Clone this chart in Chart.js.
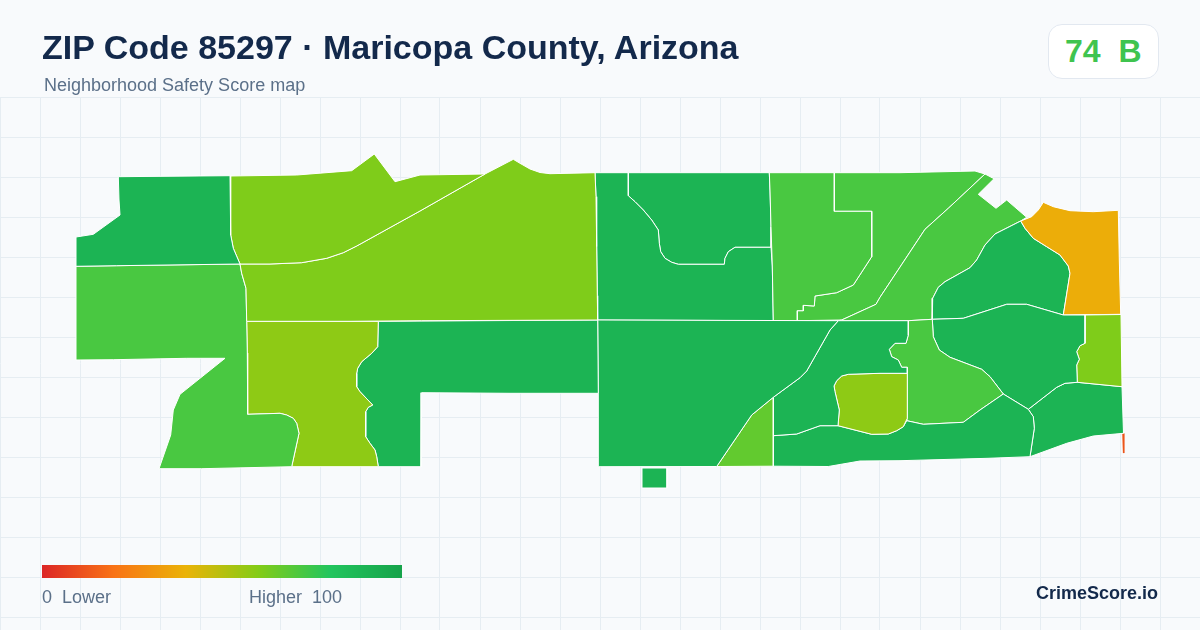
<!DOCTYPE html>
<html><head><meta charset="utf-8">
<script src="https://cdn.jsdelivr.net/npm/chart.js@4"></script>
<style>
html,body{margin:0;padding:0;width:1200px;height:630px;overflow:hidden;background:#f8fafc;font-family:"Liberation Sans",Arial,sans-serif}
#wrap{position:absolute;left:0;top:0;width:1200px;height:630px}
.t{position:absolute;white-space:pre;line-height:1}
#title{left:42px;top:30px;font-size:34px;font-weight:700;color:#13294b}
#sub{left:44px;top:76px;font-size:18px;color:#5b7089}
#badge{position:absolute;left:1048px;top:24px;width:109px;height:53px;background:#fff;border:1px solid #e2e8f0;border-radius:14px}
#score{left:1065px;top:35px;font-size:32px;font-weight:700;color:#3fc44f}
#bar{position:absolute;left:42px;top:565px;width:360px;height:13px;background:linear-gradient(90deg,#dc2626,#f97316 20%,#eab308 40%,#84cc16 60%,#22c55e 80%,#16a34a)}
#lo{left:42px;top:588px;font-size:18px;color:#5b7089}
#hi{left:249px;top:588px;font-size:18px;color:#5b7089}
#brand{left:1036px;top:584px;font-size:18px;font-weight:700;color:#13294b}
</style></head><body>
<div id="wrap"><canvas id="c" width="1200" height="630"></canvas></div>
<div class="t" id="title">ZIP Code 85297 · Maricopa County, Arizona</div>
<div class="t" id="sub">Neighborhood Safety Score map</div>
<div id="badge"></div><div class="t" id="score">74  B</div>
<div id="bar"></div>
<div class="t" id="lo">0  Lower</div><div class="t" id="hi">Higher  100</div>
<div class="t" id="brand">CrimeScore.io</div>
<script>
const tractNames=["A","B","C","D","E","F","G","H","I","J","K","L","M","N","O","Q","R","S","T","U","W","X","Y","P"];
const tractScores=[90,61,61,72,58,90,90,67,90,58,90,72,90,61,90,38,90,72,72,72,90,90,90,13];
const A=[[118.3,176.7],[230,175.7],[230.7,235],[233.3,248.3],[240,264],[116.7,265.7],[76,266.3],[76,237],[93.3,234.3],[120,215],[119,200]];
const B=[[230,176],[296.7,175],[351.7,170.7],[374.3,154],[395,181.7],[420,175],[485,174],[420,211],[356.7,246],[343.3,252.7],[326.7,258.3],[301.7,262.7],[270,264],[240,264],[233.3,248.3],[230.7,235]];
const C=[[485,174],[513.3,159.3],[520,163.3],[530,169],[540,172.5],[550,173.7],[595,172.7],[596,196.7],[596.7,246.7],[597.3,295.7],[597.7,320],[421.7,320.7],[350,321.3],[246.7,321.3],[246,288.3],[241.7,273.3],[240,264],[270,264],[301.7,262.7],[326.7,258.3],[343.3,252.7],[356.7,246],[420,211]];
const D=[[76,266.3],[116.7,265.7],[240,264],[241.7,273.3],[246,288.3],[246.7,321.3],[247.3,353],[247.7,414.3],[280,413.3],[286.7,415],[293.3,418.3],[296.7,423.3],[299,433.3],[291.7,466.7],[201.7,468.7],[159,468.7],[170.7,435],[173.3,410],[180,394.3],[225,358.3],[186.7,358.3],[113.3,359.7],[76,360]];
const E=[[246.7,321.3],[378.3,321.3],[377.7,346.7],[371.7,353.3],[361.7,361.7],[357.7,368.3],[356.7,373.3],[356.7,386.7],[360,391.7],[372.7,405],[368.3,407.3],[365.7,411.7],[365.7,436.7],[370,443.3],[375,450],[376.7,456.7],[378.3,466.7],[291.7,466.7],[299,433.3],[296.7,423.3],[293.3,418.3],[286.7,415],[280,413.3],[247.7,414.3],[247.3,353]];
const F=[[378.3,321.3],[597.7,320],[598.3,393.3],[510,393.3],[421.7,392.7],[421,466.7],[378.3,466.7],[376.7,456.7],[375,450],[370,443.3],[365.7,436.7],[365.7,411.7],[368.3,407.3],[372.7,405],[360,391.7],[356.7,386.7],[356.7,373.3],[357.7,368.3],[361.7,361.7],[371.7,353.3],[377.7,346.7]];
const G=[[597.7,320],[838.3,320.7],[830,330],[806.7,371],[800,377.7],[773.3,397.3],[751.7,415],[716.7,466.5],[598.3,466.7],[598.3,393.3]];
const H=[[773.3,397.3],[773.3,466.2],[716.7,466.5],[751.7,415]];
const I=[[838.3,320.7],[908.3,320.7],[908.3,335],[906,343.3],[895,343.3],[889.3,349.3],[891.7,356.7],[898.3,360],[901.7,367.3],[907.3,367.3],[907.3,373.3],[880,373.3],[848.3,374.3],[841.7,376],[836.7,380.7],[834,386],[835,391.7],[839.3,410],[838,425.7],[820,425.7],[796.7,434],[773.3,435.7],[773.3,397.3],[800,377.7],[806.7,371],[830,330]];
const J=[[907.3,373.3],[880,373.3],[848.3,374.3],[841.7,376],[836.7,380.7],[834,386],[835,391.7],[839.3,410],[838,425.7],[871.7,434.3],[888.3,434],[896.7,430.7],[903.3,426.7],[907.3,418.3]];
const K=[[773.3,435.7],[796.7,434],[820,425.7],[838,425.7],[871.7,434.3],[888.3,434],[896.7,430.7],[903.3,426.7],[906.7,420.7],[923.3,424.3],[963.3,422.3],[980,410],[1003.3,394],[1028.3,409.3],[1033.3,416.7],[1034.3,428.3],[1030,456.7],[988,458.3],[900,460.7],[860,461],[828.3,466.5],[773.3,466.2]];
const L=[[908.3,320.7],[932.3,319.3],[933.3,336.7],[939.3,350],[950,357.3],[981.7,369.3],[990,376.7],[1003.3,394],[980,410],[963.3,422.3],[923.3,424.3],[906.7,420.7],[907.3,418.3],[907.3,367.3],[901.7,367.3],[898.3,360],[891.7,356.7],[889.3,349.3],[895,343.3],[906,343.3],[908.3,335]];
const M=[[932.3,319.3],[963.3,318.3],[1006.7,304.3],[1026.7,304.3],[1063.3,315],[1085,315],[1085,343.3],[1080,345.7],[1076.7,351.7],[1079.3,359.3],[1076.7,365],[1077.3,382.3],[1065,383.3],[1056.7,387.3],[1028.3,409.3],[1003.3,394],[990,376.7],[981.7,369.3],[950,357.3],[939.3,350],[933.3,336.7]];
const N=[[1085,315],[1121,314.5],[1122,386.7],[1077.3,382.3],[1076.7,365],[1079.3,359.3],[1076.7,351.7],[1080,345.7],[1085,343.3]];
const O=[[1077.3,382.3],[1122,386.7],[1123.5,433.3],[1093.3,436],[1066.7,443.3],[1030,456.7],[1034.3,428.3],[1033.3,416.7],[1028.3,409.3],[1056.7,387.3],[1065,383.3]];
const P=[[1122.3,433.5],[1124.3,433.5],[1124.3,453],[1123,453]];
const Q=[[1043.3,202.3],[1053.3,206.7],[1070,210.7],[1093.3,211.7],[1118.3,210.3],[1119.3,260],[1120.7,314.3],[1063.3,315],[1070,273.3],[1068.3,266],[1060,255],[1046.7,246.7],[1033.3,238.3],[1025,228.3],[1020.7,221],[1031.7,216.7],[1038.3,210]];
const R=[[1020.7,221],[995,234],[985,245],[976.7,260],[970,267.7],[945,281.7],[938.3,287.3],[932.7,298.3],[932.3,319.3],[963.3,318.3],[1006.7,304.3],[1026.7,304.3],[1063.3,315],[1070,273.3],[1068.3,266],[1060,255],[1046.7,246.7],[1033.3,238.3],[1025,228.3]];
const S=[[985,174],[994,178.7],[978.3,194.3],[996,208.3],[1006.7,200],[1026.7,217.3],[1020.7,221],[995,234],[985,245],[976.7,260],[970,267.7],[945,281.7],[938.3,287.3],[932.7,298.3],[932.3,319.3],[908.3,320.7],[838.3,320.7],[841.7,320],[876,304.3],[880,297.3],[925,229.3],[948.3,208.3]];
const T=[[769.3,172.7],[834.3,172.7],[834.3,211.3],[871.7,211.3],[871.7,256.7],[853.3,285],[836.7,292.7],[815,296],[814.3,306],[803.3,305.3],[803.3,310.7],[797.3,310.7],[797.3,320.7],[773.3,320.7],[772.3,266],[771,226.7],[770,190]];
const U=[[834.3,172.7],[900,172.7],[975,171],[985,174],[948.3,208.3],[925,229.3],[880,297.3],[876,304.3],[841.7,320],[797.3,320.7],[797.3,310.7],[803.3,310.7],[803.3,305.3],[814.3,306],[815,296],[836.7,292.7],[853.3,285],[871.7,256.7],[871.7,211.3],[834.3,211.3]];
const W=[[595,172.7],[628.3,172.7],[628.3,195.7],[635,201.7],[643.3,210],[651.7,220],[658.3,230],[659.3,243.3],[660.7,251.7],[665,258.3],[671.7,262.3],[678.3,264.3],[724.3,264.3],[725,258.3],[728.3,251.7],[735,247.3],[771,247.3],[772.3,266],[773.3,320.7],[597.7,320],[597.3,295.7],[596.7,246.7],[596,196.7]];
const X=[[628.3,172.7],[769.3,172.7],[770,190],[771,226.7],[771,247.3],[735,247.3],[728.3,251.7],[725,258.3],[724.3,264.3],[678.3,264.3],[671.7,262.3],[665,258.3],[660.7,251.7],[659.3,243.3],[658.3,230],[651.7,220],[643.3,210],[635,201.7],[628.3,195.7]];
const Y=[[642,468],[667,468],[667,488],[642,488]];
const tractShapes=[A,B,C,D,E,F,G,H,I,J,K,L,M,N,O,Q,R,S,T,U,W,X,Y,P];
const rampStops=[[0,[220,38,38]],[20,[249,115,22]],[40,[234,179,8]],[60,[132,204,22]],[80,[34,197,94]],[100,[22,163,74]]];
const yGridTicks=[97,137,177,217,257,297,337,377,417,457,497,537,577,617];
function ramp(v){for(let i=1;i<rampStops.length;i++){const a=rampStops[i-1],b=rampStops[i];if(v<=b[0]){const t=(v-a[0])/(b[0]-a[0]);return 'rgb('+a[1].map((c,k)=>Math.round(c+(b[1][k]-c)*t)).join(',')+')';}}return 'rgb(22,163,74)';}
function ds(name,shape,score){const thin=name==="P";return {label:name,data:shape.concat([shape[0]]).map(p=>({x:p[0],y:p[1]})),showLine:true,fill:'shape',backgroundColor:ramp(score),borderColor:thin?ramp(score):'#ffffff',borderWidth:thin?0.2:1,pointRadius:0,tension:0,clip:false};}
const datasets=tractShapes.map((s,i)=>ds(tractNames[i],s,tractScores[i]));
new Chart(document.getElementById('c'),{type:'scatter',data:{datasets},options:{responsive:false,animation:false,events:[],layout:{padding:{top:97,left:0,right:0,bottom:0}},plugins:{legend:{display:false},tooltip:{enabled:false},title:{display:false}},scales:{
x:{type:'linear',min:0,max:1200,border:{display:false},grid:{color:'#e6edf2',lineWidth:1,drawTicks:false},ticks:{display:false,stepSize:40}},
y:{type:'linear',reverse:true,min:97,max:630,border:{display:false},grid:{color:'#e6edf2',lineWidth:1,drawTicks:false},ticks:{display:false},afterBuildTicks:s=>{s.ticks=yGridTicks.map(v=>({value:v}));}}
}}});
</script></body></html>
